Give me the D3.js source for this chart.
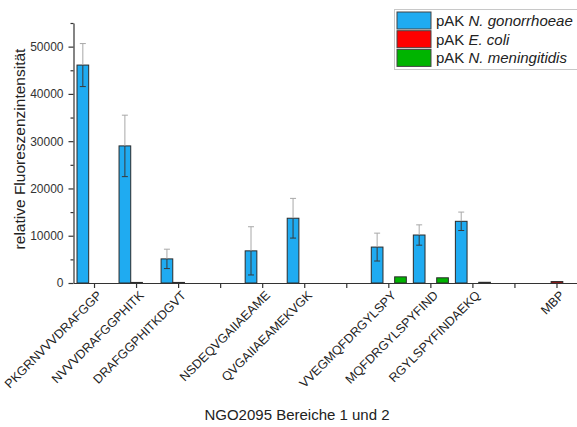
<!DOCTYPE html>
<html>
<head>
<meta charset="utf-8">
<script src="https://cdn.jsdelivr.net/npm/d3@7"></script>
<style>
  html, body { margin: 0; padding: 0; background: #fff; }
  svg { display: block; font-family: "Liberation Sans", Arial, sans-serif; }
</style>
</head>
<body>
<svg id="chart" width="577" height="427"></svg>
<script>
// Peptide regions of NGO2095 (blank entries are spacer slots between blocks)
const categories = [
  "PKGRNVVVDRAFGGP", "NVVVDRAFGGPHITK", "DRAFGGPHITKDGVT", "",
  "NSDEQVGAIIAEAME", "QVGAIIAEAMEKVGK", "",
  "VVEGMQFDRGYLSPY", "MQFDRGYLSPYFIND", "RGYLSPYFINDAEKQ", "",
  "MBP"
];
const seriesNames = ["gonorrhoeae", "coli", "meningitidis"];
const seriesPrefix = ["pAK ", "pAK ", "pAK "];
const seriesItalic = ["N. gonorrhoeae", "E. coli", "N. meningitidis"];
const seriesColors = ["#1fabf1", "#ff0000", "#00b400"];

// mean relative fluorescence intensity per region
const gonorrhoeae   = [46100, 29000, 5100, 0, 6800, 13700, 0, 7600, 10150, 13050, 0, 0];
const gonorrhoeaeSD = [4550, 6500, 2050, 0, 5100, 4200, 0, 2950, 2150, 1950, 0, 0];
const coli          = [0, 120, 120, 0, 0, 0, 0, 0, 0, 0, 0, 300];
const meningitidis  = [0, 0, 0, 0, 0, 0, 0, 1300, 1100, 150, 0, 0];

const yTicks = [0, 10000, 20000, 30000, 40000, 50000];
const yMinorTicks = [5000, 15000, 25000, 35000, 45000, 55000];

const values = [gonorrhoeae, coli, meningitidis];
const errors = [gonorrhoeaeSD, null, null];

const svg = d3.select("#chart");
const plotLeft = 73.5, plotRight = 578, plotTop = 23, plotBottom = 283;

const x0 = d3.scaleBand().domain(d3.range(categories.length)).range([plotLeft, plotRight]).padding(0);
const x1 = d3.scaleBand().domain(seriesNames).range([0, x0.bandwidth()]).paddingInner(0).paddingOuter(0.3);
const y = d3.scaleLinear().domain([0, 55000]).range([plotBottom, plotTop]);

// bars
const groups = svg.append("g").selectAll("g")
  .data(categories.map((c, i) => i))
  .join("g")
  .attr("transform", i => `translate(${x0(i)},0)`);

seriesNames.forEach((s, si) => {
  groups.filter(i => values[si][i] > 0)
    .append("rect")
    .attr("x", x1(s))
    .attr("width", x1.bandwidth())
    .attr("y", i => y(values[si][i]))
    .attr("height", i => y(0) - y(values[si][i]))
    .attr("fill", seriesColors[si])
    .attr("stroke", "#2b2b2b")
    .attr("stroke-width", 1);
});

// error bars: light part above the bar, darker part inside it
seriesNames.forEach((s, si) => {
  if (!errors[si]) return;
  const g = groups.filter(i => values[si][i] > 0 && errors[si][i] > 0);
  const cx = x1(s) + x1.bandwidth() / 2;
  g.append("line")
    .attr("x1", cx).attr("x2", cx)
    .attr("y1", i => y(values[si][i] + errors[si][i]))
    .attr("y2", i => y(values[si][i]))
    .attr("stroke", "#a8a8a8").attr("stroke-width", 1);
  g.append("line")
    .attr("x1", cx - 3).attr("x2", cx + 3)
    .attr("y1", i => y(values[si][i] + errors[si][i]))
    .attr("y2", i => y(values[si][i] + errors[si][i]))
    .attr("stroke", "#a8a8a8").attr("stroke-width", 1);
  g.append("line")
    .attr("x1", cx).attr("x2", cx)
    .attr("y1", i => y(values[si][i]))
    .attr("y2", i => y(values[si][i] - errors[si][i]))
    .attr("stroke", "#3a3a3a").attr("stroke-width", 1);
  g.append("line")
    .attr("x1", cx - 3).attr("x2", cx + 3)
    .attr("y1", i => y(values[si][i] - errors[si][i]))
    .attr("y2", i => y(values[si][i] - errors[si][i]))
    .attr("stroke", "#3a3a3a").attr("stroke-width", 1);
});

// y axis
const yAxisG = svg.append("g").attr("transform", `translate(${plotLeft},0)`);
yAxisG.call(d3.axisLeft(y).tickValues(yTicks).tickSize(5).tickSizeOuter(0).tickPadding(5).tickFormat(d3.format("d")));
yAxisG.append("g").call(d3.axisLeft(y).tickValues(yMinorTicks).tickSize(3).tickSizeOuter(0).tickFormat(""))
  .select(".domain").remove();
yAxisG.selectAll(".domain, line").attr("stroke", "#333").attr("stroke-width", 1.2);
yAxisG.selectAll("text").attr("font-size", 12).attr("fill", "#333").attr("font-family", "Liberation Sans, Arial, sans-serif");

// x axis
const xAxisG = svg.append("g").attr("transform", `translate(0,${plotBottom})`);
xAxisG.call(d3.axisBottom(x0).tickSize(5).tickSizeOuter(0).tickFormat(""));
xAxisG.selectAll(".domain, line").attr("stroke", "#333").attr("stroke-width", 1.2);

// rotated region labels
svg.append("g").selectAll("text")
  .data(categories.map((c, i) => i).filter(i => categories[i] !== ""))
  .join("text")
  .attr("transform", i => `translate(${x0(i) + x0.bandwidth() / 2 + 5},${plotBottom + 10}) rotate(-45)`)
  .attr("text-anchor", "end")
  .attr("dy", "0.35em")
  .attr("font-size", 12.5)
  .attr("fill", "#222")
  .text(i => categories[i]);

// axis titles
svg.append("text")
  .attr("x", 297).attr("y", 420)
  .attr("text-anchor", "middle")
  .attr("font-size", 15)
  .attr("fill", "#222")
  .text("NGO2095 Bereiche 1 und 2");

svg.append("text")
  .attr("transform", "translate(25,149) rotate(-90)")
  .attr("text-anchor", "middle")
  .attr("font-size", 15.5)
  .attr("fill", "#222")
  .text("relative Fluoreszenzintensität");

// legend
const legend = svg.append("g").attr("transform", "translate(394,9)");
legend.append("rect")
  .attr("x", 0.5).attr("y", 0.5).attr("width", 183).attr("height", 60)
  .attr("fill", "#fff").attr("stroke", "#c8c8c8").attr("stroke-width", 1);
const rows = legend.selectAll("g.row").data(seriesNames).join("g")
  .attr("class", "row")
  .attr("transform", (d, i) => `translate(3,${3 + i * 18.7})`);
rows.append("rect")
  .attr("width", 34).attr("height", 17)
  .attr("fill", (d, i) => seriesColors[i])
  .attr("stroke", "#444").attr("stroke-width", 1);
const lt = rows.append("text")
  .attr("x", 39).attr("y", 14)
  .attr("font-size", 15)
  .attr("fill", "#222");
lt.append("tspan").text((d, i) => seriesPrefix[i]);
lt.append("tspan").attr("font-style", "italic").text((d, i) => seriesItalic[i]);
</script>
</body>
</html>
